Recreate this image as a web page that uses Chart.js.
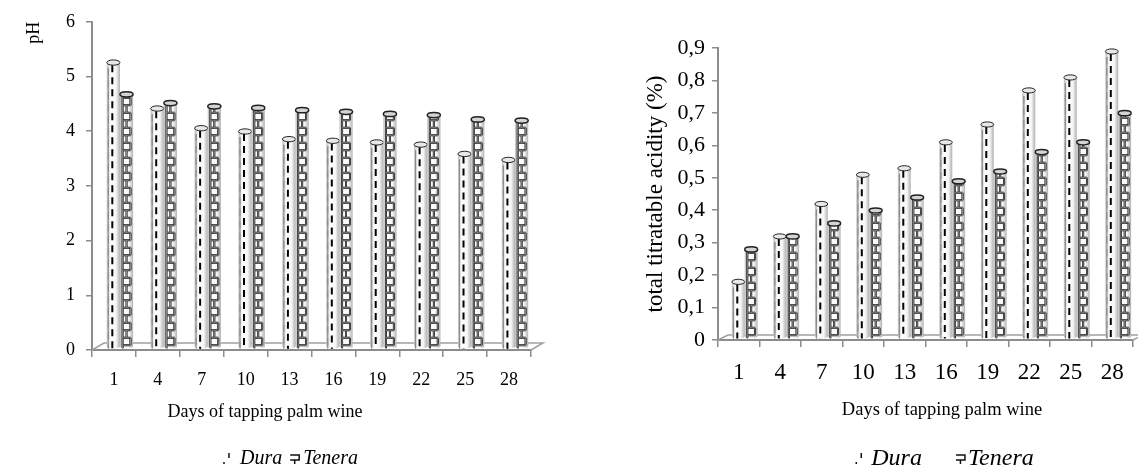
<!DOCTYPE html>
<html>
<head>
<meta charset="utf-8">
<script src="https://cdn.jsdelivr.net/npm/chart.js@4.4.1/dist/chart.umd.min.js"></script>
<style>
    body { margin: 0; background: #fff; width: 1138px; height: 471px; overflow: hidden; position: relative; }
    .chart-box { position: absolute; top: 0; height: 471px; }
    #ph-box { left: 0; width: 570px; }
    #tta-box { left: 570px; width: 568px; }
</style>
</head>
<body>
<div class="chart-box" id="ph-box"><canvas id="phChart" width="570" height="471"></canvas></div>
<div class="chart-box" id="tta-box"><canvas id="ttaChart" width="568" height="471"></canvas></div>
<script>
const days = ['1', '4', '7', '10', '13', '16', '19', '22', '25', '28'];
const seriesNames = ['Dura', 'Tenera'];

const phDura = [5.2, 4.36, 4.0, 3.94, 3.8, 3.77, 3.74, 3.7, 3.53, 3.42];
const phTenera = [4.62, 4.46, 4.4, 4.37, 4.33, 4.3, 4.26, 4.24, 4.16, 4.14];

const ttaDura = [0.17, 0.31, 0.41, 0.5, 0.52, 0.6, 0.655, 0.76, 0.8, 0.88];
const ttaTenera = [0.27, 0.31, 0.35, 0.39, 0.43, 0.48, 0.51, 0.57, 0.6, 0.69];
const ttaTickLabels = ['0', '0,1', '0,2', '0,3', '0,4', '0,5', '0,6', '0,7', '0,8', '0,9'];

const xTitle = 'Days of tapping palm wine';

const SERIF = "'Liberation Serif', 'DejaVu Serif', serif";
const AXIS_GRAY = '#8c8c8c';

// 원통 모양 막대 그리기
function drawCylinder(ctx, x, top, base, w, kind) {
    const rx = w / 2, ry = Math.max(2, w * 0.2);
    const left = x - rx;
    if (base - top < 1) top = base - 1;

    const g = ctx.createLinearGradient(left, 0, left + w, 0);
    g.addColorStop(0, '#bdbdbd');
    g.addColorStop(0.3, '#ffffff');
    g.addColorStop(0.7, '#f6f6f6');
    g.addColorStop(1, '#b0b0b0');

    ctx.save();
    ctx.beginPath();
    ctx.moveTo(left, top);
    ctx.lineTo(left, base);
    ctx.ellipse(x, base, rx, ry, 0, Math.PI, 0, true);
    ctx.lineTo(left + w, top);
    ctx.ellipse(x, top, rx, ry, 0, 0, Math.PI, true);
    ctx.closePath();
    ctx.fillStyle = g;
    ctx.fill();

    ctx.save();
    ctx.clip();
    ctx.strokeStyle = '#000';
    if (kind === 'dash') {
        ctx.lineWidth = 2;
        ctx.setLineDash([7, 5]);
        ctx.beginPath();
        ctx.moveTo(left + w * 0.42, top + ry);
        ctx.lineTo(left + w * 0.42, base + ry);
        ctx.stroke();
        ctx.strokeStyle = '#8a8a8a';
        ctx.lineWidth = 1;
        ctx.beginPath();
        ctx.moveTo(left + 1.5, top + ry + 3);
        ctx.lineTo(left + 1.5, base + ry);
        ctx.stroke();
    } else {
        const x1 = left + w * 0.2, x2 = left + w * 0.8, xm = left + w * 0.5;
        ctx.lineWidth = 2;
        ctx.beginPath();
        ctx.moveTo(x1, top + ry);
        ctx.lineTo(x1, base + ry);
        let row = 0;
        for (let y = base - 1; y > top + ry; y -= 7.5) {
            ctx.moveTo(x1, y);
            ctx.lineTo(x2, y);
            const yUp = Math.max(y - 7.5, top + ry);
            if (row % 2 === 0) {
                ctx.moveTo(x2, y);
                ctx.lineTo(x2, yUp);
            } else {
                ctx.moveTo(xm, y);
                ctx.lineTo(xm, yUp);
            }
            row++;
        }
        ctx.stroke();
    }
    ctx.restore();

    ctx.lineWidth = 1;
    ctx.strokeStyle = '#8a8a8a';
    ctx.stroke();

    ctx.beginPath();
    ctx.ellipse(x, top, rx, ry, 0, 0, Math.PI * 2);
    ctx.fillStyle = kind === 'dash' ? '#e8e8e8' : '#d4d4d4';
    ctx.fill();
    ctx.lineWidth = kind === 'dash' ? 1 : 1.5;
    ctx.strokeStyle = '#222';
    ctx.stroke();
    ctx.restore();
}

const cylinderPlugin = {
    id: 'cylinders',
    afterDatasetsDraw(chart, args, opts) {
        const ctx = chart.ctx;
        chart.data.datasets.forEach((ds, i) => {
            chart.getDatasetMeta(i).data.forEach(bar => {
                const p = bar.getProps(['x', 'y', 'base', 'width'], true);
                drawCylinder(ctx, p.x + opts.dx, p.y + opts.dy, p.base + opts.dy, p.width, ds.pattern);
            });
        });
    }
};

// 3D 바닥면
const floorPlugin = {
    id: 'floor3d',
    beforeDatasetsDraw(chart, args, opts) {
        const { left, right, bottom } = chart.chartArea;
        const ctx = chart.ctx;
        ctx.save();
        ctx.strokeStyle = '#a0a0a0';
        ctx.lineWidth = 1.5;
        ctx.beginPath();
        ctx.moveTo(left, bottom);
        ctx.lineTo(left + opts.dx, bottom - opts.dy);
        ctx.lineTo(right + opts.dx, bottom - opts.dy);
        ctx.lineTo(right, bottom);
        ctx.stroke();
        ctx.restore();
    }
};

function drawLegendIcon(ctx, kind, x, y) {
    ctx.save();
    ctx.strokeStyle = '#111';
    ctx.lineWidth = 1.5;
    ctx.beginPath();
    if (kind === 'dash') {
        ctx.moveTo(x + 7, y - 6);
        ctx.lineTo(x + 7, y - 1);
        ctx.moveTo(x + 2, y + 3);
        ctx.lineTo(x + 2, y + 5);
    } else {
        ctx.moveTo(x, y - 4);
        ctx.lineTo(x + 9, y - 4);
        ctx.lineTo(x + 9, y + 1);
        ctx.lineTo(x, y + 1);
        ctx.moveTo(x + 4.5, y + 1);
        ctx.lineTo(x + 4.5, y + 5);
    }
    ctx.stroke();
    ctx.restore();
}

// 범례 + x축 제목
const legendPlugin = {
    id: 'patternLegend',
    afterDraw(chart, args, opts) {
        const ctx = chart.ctx;
        ctx.save();
        ctx.fillStyle = '#000';
        ctx.textBaseline = 'middle';

        ctx.font = opts.captionSize + 'px ' + SERIF;
        ctx.textAlign = 'center';
        ctx.fillText(xTitle, opts.captionX, opts.captionY);

        ctx.textAlign = 'left';
        ctx.font = 'italic ' + opts.size + 'px ' + SERIF;
        const items = chart.data.datasets.map(ds => ({ text: ds.label, kind: ds.pattern, w: ctx.measureText(ds.label).width }));
        const gapFor = (k) => k === 'dash' ? opts.dashGap : opts.brickGap;
        let total = opts.itemGap * (items.length - 1);
        items.forEach(it => { total += opts.iconW + gapFor(it.kind) + it.w; });
        let x = opts.x - total / 2;
        items.forEach(it => {
            drawLegendIcon(ctx, it.kind, x, opts.y);
            x += opts.iconW + gapFor(it.kind);
            ctx.fillText(it.text, x, opts.y);
            x += it.w + opts.itemGap;
        });
        ctx.restore();
    }
};

function makeChart(canvasId, duraData, teneraData, cfg) {
    const ctx = document.getElementById(canvasId).getContext('2d');
    return new Chart(ctx, {
        type: 'bar',
        data: {
            labels: days,
            datasets: [
                { label: seriesNames[0], data: duraData, pattern: 'dash', backgroundColor: 'rgba(0,0,0,0)', borderWidth: 0 },
                { label: seriesNames[1], data: teneraData, pattern: 'brick', backgroundColor: 'rgba(0,0,0,0)', borderWidth: 0 }
            ]
        },
        options: {
            responsive: false,
            animation: false,
            events: [],
            layout: { padding: cfg.padding },
            datasets: { bar: { categoryPercentage: cfg.catPct, barPercentage: 1.0 } },
            plugins: {
                legend: { display: false },
                tooltip: { enabled: false },
                cylinders: { dx: 6, dy: -3 },
                floor3d: cfg.floor,
                patternLegend: cfg.legend
            },
            scales: {
                x: {
                    offset: true,
                    grid: { offset: true, drawOnChartArea: false, tickLength: 7, color: AXIS_GRAY, lineWidth: 1.5 },
                    border: { color: AXIS_GRAY, width: 2 },
                    ticks: { color: '#000', font: { family: SERIF, size: cfg.xTickSize }, padding: cfg.xTickPad, maxRotation: 0, autoSkip: false },
                    afterFit: (scale) => { scale.height = cfg.xHeight; }
                },
                y: {
                    min: 0,
                    max: cfg.yMax,
                    grid: { drawOnChartArea: false, tickLength: 6, color: AXIS_GRAY, lineWidth: 1.5 },
                    border: { color: AXIS_GRAY, width: 2 },
                    ticks: { stepSize: cfg.yStep, color: '#000', font: { family: SERIF, size: cfg.yTickSize }, padding: cfg.yTickPad, callback: cfg.yCallback },
                    title: { display: true, text: cfg.yTitle, align: cfg.yTitleAlign, color: '#000', font: { family: SERIF, size: cfg.yTitleSize }, padding: { top: cfg.yTitlePadTop, bottom: 0 } },
                    afterFit: (scale) => { scale.width = cfg.yWidth; }
                }
            }
        },
        plugins: [floorPlugin, cylinderPlugin, legendPlugin]
    });
}

document.addEventListener('DOMContentLoaded', () => {
    makeChart('phChart', phDura, phTenera, {
        padding: { left: 20, right: 39, top: 20, bottom: 41 },
        catPct: 0.6,
        floor: { dx: 12, dy: 7 },
        legend: { x: 290, y: 459, size: 20, iconW: 10, dashGap: 8, brickGap: 3, itemGap: 8,
                  captionX: 265, captionY: 412, captionSize: 18 },
        xTickSize: 18, xTickPad: 12, xHeight: 80,
        yMax: 6, yStep: 1, yTickSize: 18, yTickPad: 11,
        yCallback: (v) => v,
        yTitle: 'pH', yTitleAlign: 'end', yTitleSize: 18, yTitlePadTop: 3, yWidth: 72
    });

    makeChart('ttaChart', ttaDura, ttaTenera, {
        padding: { left: 70, right: 5, top: 48, bottom: 41 },
        catPct: 0.62,
        floor: { dx: 10, dy: 5 },
        legend: { x: 374, y: 459, size: 24, iconW: 10, dashGap: 7, brickGap: 2, itemGap: 34,
                  captionX: 372, captionY: 410, captionSize: 18.5 },
        xTickSize: 23, xTickPad: 12, xHeight: 90,
        yMax: 0.9, yStep: 0.1, yTickSize: 22, yTickPad: 7,
        yCallback: (v) => ttaTickLabels[Math.round(v * 10)],
        yTitle: 'total titratable acidity (%)', yTitleAlign: 'center', yTitleSize: 23, yTitlePadTop: 2, yWidth: 78
    });
});
</script>
</body>
</html>
